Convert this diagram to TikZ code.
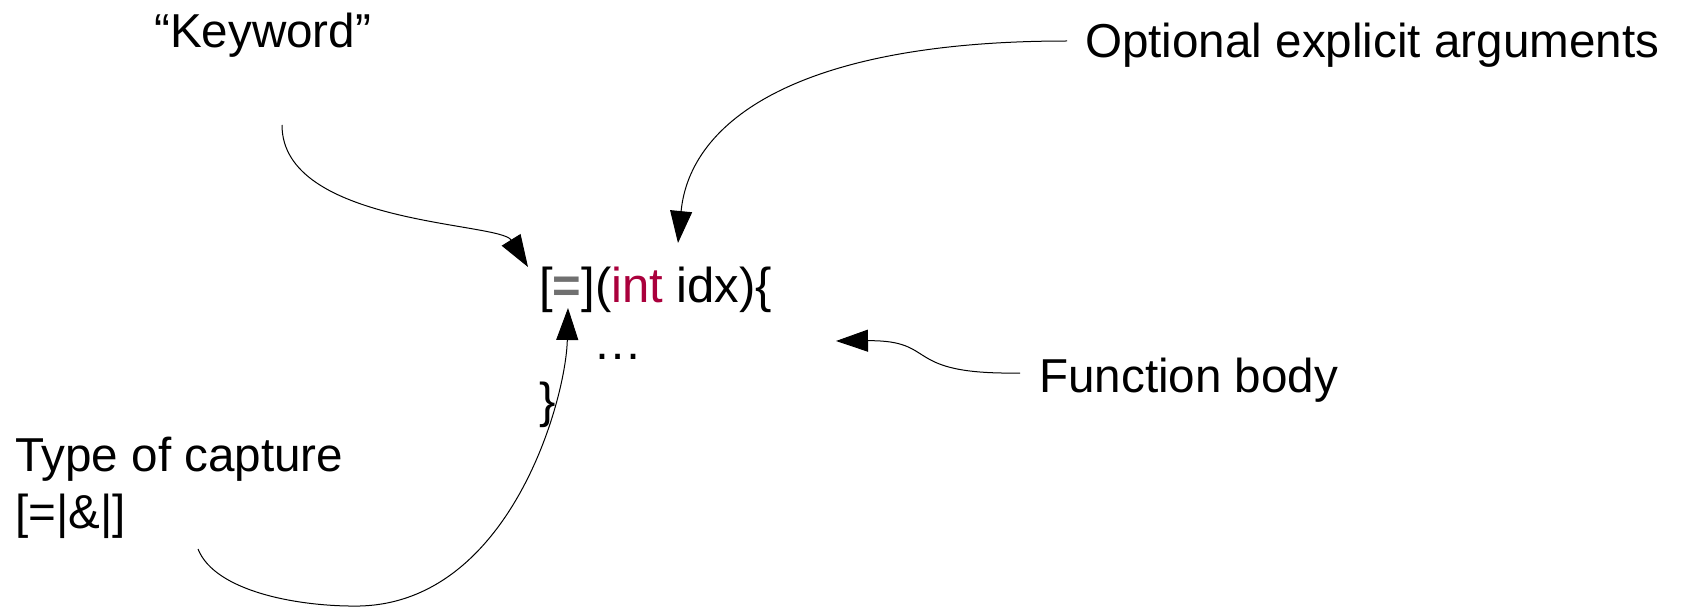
\documentclass[tikz,border=0pt]{standalone}
\usepackage{fontspec}
\setmainfont{Liberation Sans}
\usetikzlibrary{arrows.meta}
\definecolor{kwred}{RGB}{170,0,60}
\definecolor{eqgrey}{RGB}{112,112,112}
\begin{document}
\begin{tikzpicture}[x=1pt,y=-1pt,
  lbl/.style={inner sep=0pt,anchor=base west,font=\fontsize{47.6pt}{57pt}\selectfont},
  codetxt/.style={inner sep=0pt,anchor=base west,font=\fontsize{49pt}{57pt}\selectfont},
  conn/.style={line width=1pt,-{Triangle[length=32pt,width=22pt]}}]
\useasboundingbox (0,0) rectangle (1681,607);
% labels
\node[lbl] (kw) at (154,48) {“Keyword”};
\node[lbl] (opt) at (1085,58) {Optional explicit arguments};
\node[lbl] (fb) at (1039,392) {Function body};
\node[lbl] (tc1) at (15,471) {Type of capture};
\node[lbl] (tc2) at (15,528) {[=|\&|]};
% code
\node[codetxt] (c1) at (539,302) {[\textcolor{eqgrey}{\textbf{=}}](\textcolor{kwred}{int} idx)\{};
\node[codetxt] (c2) at (593,359) {…};
\node[codetxt] (c3) at (539,417) {\}};
% connector ends
\coordinate (kws) at (282,125);
\coordinate (kwt) at (528,267);
\coordinate (opts) at (1067,41);
\coordinate (optt) at (678,243);
\coordinate (fbs) at (1020,373);
\coordinate (fbt) at (836,341);
\coordinate (tcs) at (198,549);
\coordinate (tcm) at (360,606);
\coordinate (tct) at (568,308);
% connectors
\draw[conn] (kws) .. controls (282,225) and (500,222) .. (kwt);
\draw[conn] (opts) .. controls (800,41) and (690,120) .. (optt);
\draw[conn] (fbs) .. controls (900,375) and (940,340) .. (fbt);
\draw[conn] (tcs) .. controls (215,592) and (300,607) .. (tcm)
  .. controls (510,602) and (566,400) .. (tct);
\end{tikzpicture}
\end{document}
